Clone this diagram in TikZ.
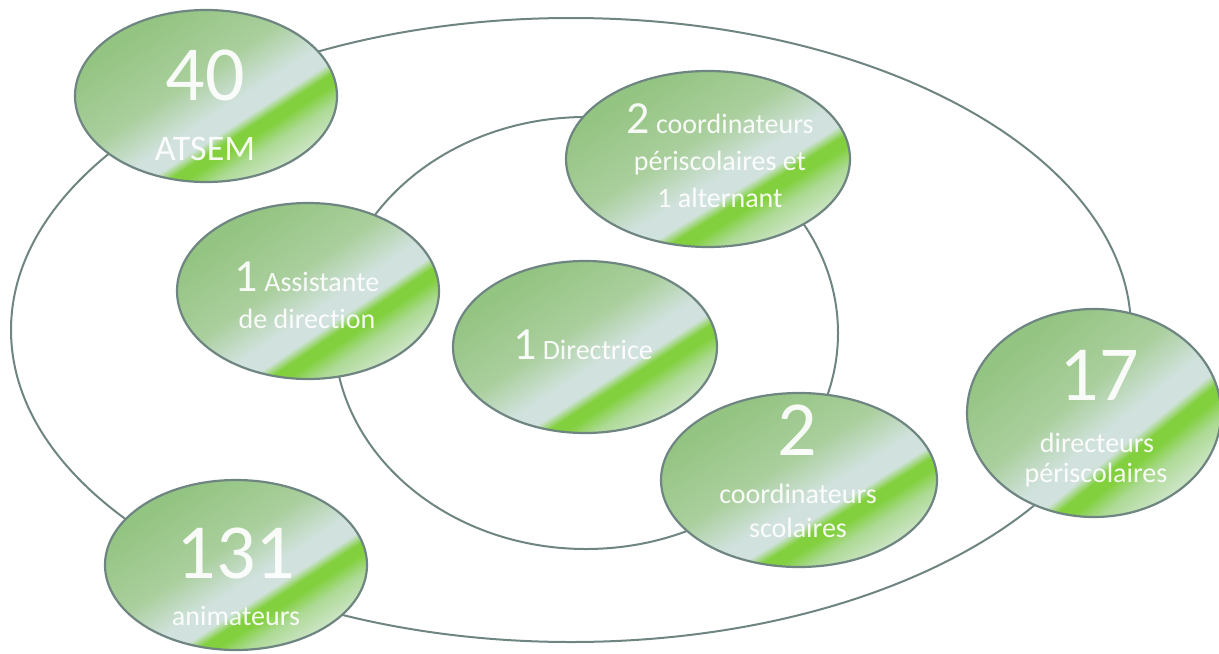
\documentclass[tikz,border=0pt]{standalone}
\usepackage{fontspec}
\setmainfont[Ligatures={NoCommon,NoRare}]{Carlito}
\usetikzlibrary{shapes.geometric}

\definecolor{rimgrey}{HTML}{6E8581}
\definecolor{leafdark}{HTML}{94C482}
\definecolor{leafmid}{HTML}{AACF9D}
\definecolor{leafpale}{HTML}{D1E2DE}
\definecolor{leafbright}{HTML}{82D03E}
\definecolor{leafsoft}{HTML}{ADDA95}
\definecolor{leaflight}{HTML}{CAE4C2}

\pgfdeclarehorizontalshading{leafshine}{100bp}{color(0bp)=(leafdark); color(28bp)=(leafdark);
  color(45bp)=(leafmid); color(55bp)=(leafpale); color(59.5bp)=(leafpale);
  color(62bp)=(leafbright); color(64.5bp)=(leafbright); color(68.5bp)=(leafsoft);
  color(74bp)=(leaflight); color(100bp)=(leaflight)}

\tikzset{
  orbit/.style={draw=rimgrey, line width=1pt},
  bubble/.style={ellipse, draw=rimgrey, line width=1.1pt, shading=leafshine,
    shading angle=#1, inner sep=0pt},
  line/.style={text=white, text opacity=0.92, anchor=base, inner sep=0pt,
    font=\fontsize{14}{16}\selectfont},
  bignum/.style={line, font=\fontsize{39}{42}\selectfont},
  caps/.style={line, font=\fontsize{18}{20}\selectfont}
}
\newcommand{\midnum}[1]{{\fontsize{23}{25}\selectfont #1}}

\begin{document}
\begin{tikzpicture}[x=0.5pt,y=-0.5pt]
  \useasboundingbox (0,0) rectangle (1219,653);
  % the two rings
  \coordinate (outerc) at (571,330);
  \coordinate (innerc) at (586,333);
  \draw[orbit] (outerc) ellipse [x radius=560, y radius=312];
  \draw[orbit] (innerc) ellipse [x radius=252, y radius=216];

  % bubbles
  \node[bubble=-57, minimum width=131pt, minimum height=86pt] (atsem) at (206,96) {};
  \node[bubble=-58, minimum width=142pt, minimum height=88pt] (peri) at (708,159) {};
  \node[bubble=-56, minimum width=131pt, minimum height=88pt] (assist) at (308,291) {};
  \node[bubble=-57, minimum width=132pt, minimum height=86pt] (dir) at (585,347) {};
  \node[bubble=-58, minimum width=138pt, minimum height=87pt] (scol) at (799,480) {};
  \node[bubble=-51, minimum width=127pt, minimum height=104pt] (dirperi) at (1094,413) {};
  \node[bubble=-57, minimum width=131pt, minimum height=85pt] (anim) at (236,565) {};

  % texts
  \node[bignum] (atsem-num) at (205,100) {40};
  \node[caps] (atsem-txt) at (205,160) {ATSEM};

  \node[line] (peri-l1) at (720,133) {\midnum{2} coordinateurs};
  \node[line] (peri-l2) at (720,170) {périscolaires et};
  \node[line] (peri-l3) at (720,207) {1 alternant};

  \node[line] (assist-l1) at (307,291) {\midnum{1} Assistante};
  \node[line] (assist-l2) at (307,328) {de direction};

  \node[line] (dir-l1) at (583,359) {\midnum{1} Directrice};

  \node[bignum] (scol-num) at (797,455) {2};
  \node[line] (scol-l1) at (798,503) {coordinateurs};
  \node[line] (scol-l2) at (798,537) {scolaires};

  \node[bignum] (dirperi-num) at (1099,400) {17};
  \node[line] (dirperi-l1) at (1097,452) {directeurs};
  \node[line] (dirperi-l2) at (1096,482) {périscolaires};

  \node[bignum] (anim-num) at (236,578) {131};
  \node[line] (anim-txt) at (236,625) {animateurs};
\end{tikzpicture}
\end{document}
